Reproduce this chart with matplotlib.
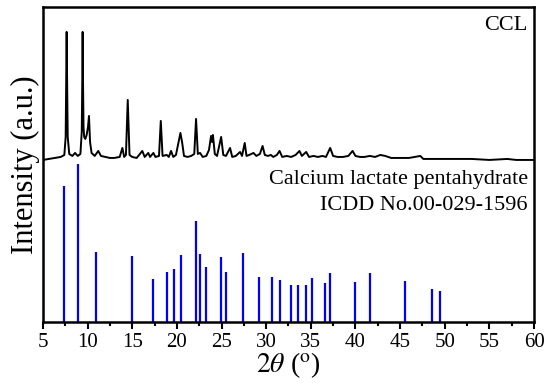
import matplotlib
matplotlib.use("Agg")
import matplotlib.pyplot as plt
from matplotlib.ticker import MultipleLocator

plt.rcParams['font.family'] = ['Liberation Serif', 'DejaVu Serif']
plt.rcParams['mathtext.fontset'] = 'stix'

ccl_2theta = [5.0, 6.0, 7.0, 7.4, 7.55, 7.62, 7.66, 7.70, 7.78, 7.95, 8.3, 8.6, 8.9,
              9.2, 9.35, 9.42, 9.45, 9.48, 9.55, 9.62, 9.75, 9.9, 10.05, 10.16, 10.28,
              10.45, 10.8, 11.2, 11.5, 12.0, 12.5, 13.0, 13.6, 13.9, 14.1, 14.3, 14.5,
              14.7, 15.0, 15.5, 16.13, 16.4, 16.8, 17.0, 17.37, 17.6, 18.0, 18.2, 18.4,
              18.87, 19.1, 19.35, 19.6, 19.9, 20.4, 20.6, 20.8, 21.2, 21.6, 21.95, 22.15,
              22.35, 22.6, 22.9, 23.3, 23.6, 23.83, 23.95, 24.04, 24.25, 24.5, 24.96, 25.2,
              25.5, 25.96, 26.2, 26.6, 27.08, 27.3, 27.6, 27.8, 28.1, 28.58, 28.9, 29.3,
              29.6, 29.85, 30.2, 30.52, 30.8, 31.2, 31.5, 31.8, 32.3, 32.8, 33.3, 33.73,
              34.0, 34.48, 34.8, 35.3, 35.8, 36.3, 36.7, 37.17, 37.5, 38.0, 38.6, 39.2,
              39.68, 40.0, 40.5, 41.0, 41.6, 42.2, 42.78, 43.34, 44.0, 45.0, 46.0, 47.26,
              47.6, 48.5, 50.0, 51.5, 53.0, 55.0, 57.0, 58.0, 60.0]
ccl_intensity = [162, 163.5, 165, 167, 185, 250, 290, 250, 185, 168, 166, 169, 166,
                 168, 190, 250, 290, 250, 195, 185, 183, 187, 195, 206, 180,
                 169, 166, 171, 166, 165, 164, 164, 165, 174, 165, 167, 222,
                 167, 165, 164, 171, 165, 169, 165, 169, 165, 166, 201, 166,
                 167, 165, 171, 165, 167, 189, 179, 166, 165, 166, 168, 203,
                 168, 169, 165, 166, 172, 186, 180, 187, 168, 166, 185, 167,
                 166, 174, 165, 166, 170, 166, 179, 166, 167, 169, 166, 168,
                 176, 167, 166, 167, 165, 167, 171, 165, 166, 165, 167, 171,
                 166, 170, 165, 166, 165, 166, 165, 174, 166, 165, 165, 166,
                 171, 166, 165, 165, 166, 165, 167, 166, 164, 164, 164, 166,
                 163, 163, 163, 163, 163, 162, 163, 162, 162]

# Reference pattern (ICDD 00-029-1596): 2theta and relative intensity
ref_2theta = [7.39, 8.96, 10.98, 15.01, 17.33, 18.86, 19.69, 20.43, 22.15, 22.60,
              23.24, 24.99, 25.55, 27.39, 29.22, 30.64, 31.57, 32.77, 33.62, 34.48,
              35.12, 36.54, 37.10, 39.98, 41.58, 45.58, 48.61, 49.51]
ref_intensity = [136, 158, 70, 66, 43, 50, 53, 67, 101, 68,
                 55, 65, 50, 69, 45, 45, 42, 37, 37, 37,
                 44, 39, 49, 40, 49, 41, 33, 31]

xticks = [5, 10, 15, 20, 25, 30, 35, 40, 45, 50, 55, 60]

fig = plt.figure(figsize=(5.5, 3.84), dpi=100)
ax = fig.add_axes([0.078, 0.1615, 0.893, 0.8205])

ax.plot(ccl_2theta, ccl_intensity, color='black', lw=1.4)
ax.vlines(ref_2theta, 0, ref_intensity, color='#0000FF', lw=1.6)

ax.set_xlim(5, 60)
ax.set_ylim(0, 315)
ax.set_xticks(xticks)
ax.xaxis.set_minor_locator(MultipleLocator(2.5))
ax.set_yticks([])
ax.tick_params(axis='x', which='major', direction='out', length=5, width=1.5,
               labelsize=15, pad=3)
ax.tick_params(axis='x', which='minor', direction='out', length=3, width=1.5)
for s in ax.spines.values():
    s.set_linewidth(1.8)

ax.text(59.3, 296, 'CCL', ha='right', va='center', fontsize=16)
ax.text(59.3, 142, 'Calcium lactate pentahydrate', ha='right', va='center', fontsize=16)
ax.text(59.3, 116, 'ICDD No.00-029-1596', ha='right', va='center', fontsize=16)

ax.set_xlabel(r'$2\theta$ ($^{\rm o}$)', fontsize=20, labelpad=-1)
ax.set_ylabel('Intensity (a.u.)', fontsize=22, labelpad=2)

fig.savefig('out.png', dpi=100)
